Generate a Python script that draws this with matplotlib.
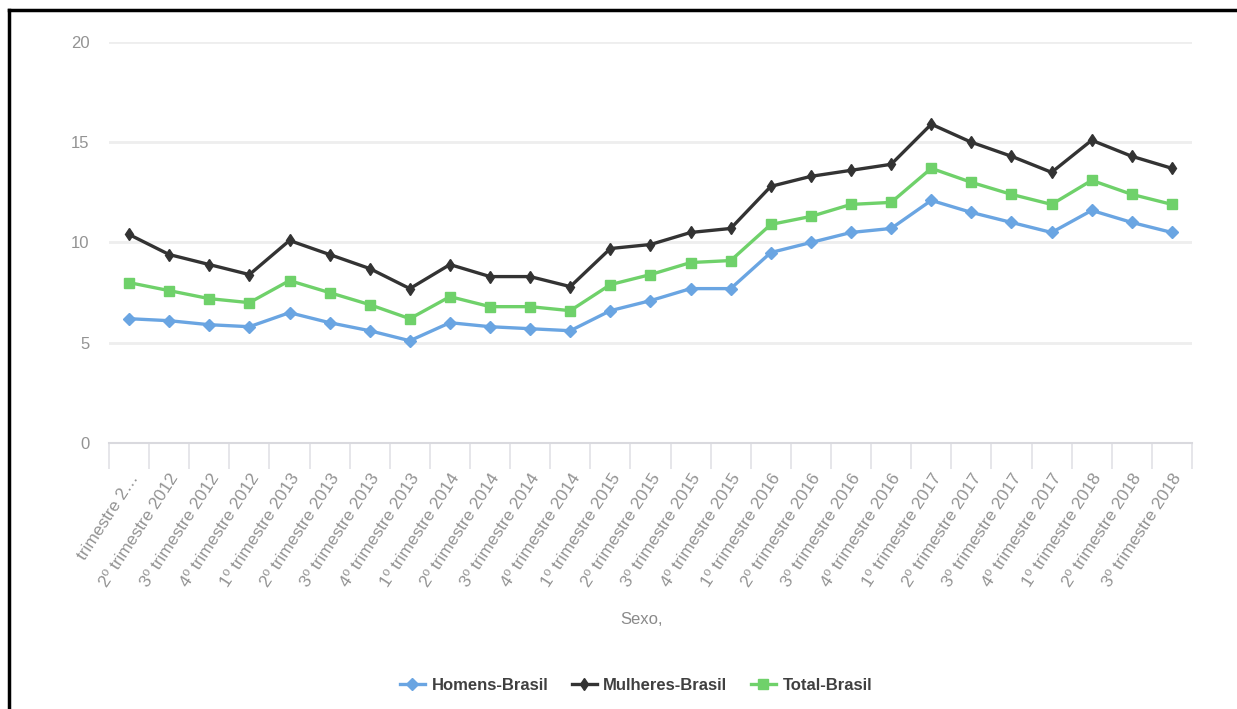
import matplotlib
matplotlib.use("Agg")
import matplotlib.pyplot as plt
from matplotlib.lines import Line2D
import numpy as np

quarters = (
    ["trimestre 2…", "2º trimestre 2012", "3º trimestre 2012", "4º trimestre 2012"]
    + [f"{q}º trimestre {y}" for y in range(2013, 2018) for q in (1, 2, 3, 4)]
    + ["1º trimestre 2018", "2º trimestre 2018", "3º trimestre 2018"]
)

homens = [6.2, 6.1, 5.9, 5.8, 6.5, 6.0, 5.6, 5.1, 6.0, 5.8, 5.7, 5.6,
          6.6, 7.1, 7.7, 7.7, 9.5, 10.0, 10.5, 10.7, 12.1, 11.5, 11.0, 10.5,
          11.6, 11.0, 10.5]
mulheres = [10.4, 9.4, 8.9, 8.4, 10.1, 9.4, 8.7, 7.7, 8.9, 8.3, 8.3, 7.8,
            9.7, 9.9, 10.5, 10.7, 12.8, 13.3, 13.6, 13.9, 15.9, 15.0, 14.3, 13.5,
            15.1, 14.3, 13.7]
total = [8.0, 7.6, 7.2, 7.0, 8.1, 7.5, 6.9, 6.2, 7.3, 6.8, 6.8, 6.6,
         7.9, 8.4, 9.0, 9.1, 10.9, 11.3, 11.9, 12.0, 13.7, 13.0, 12.4, 11.9,
         13.1, 12.4, 11.9]

series = [
    ("Homens-Brasil", homens, "#6aa5e2", "D", 6.5),
    ("Mulheres-Brasil", mulheres, "#333333", "d", 6),
    ("Total-Brasil", total, "#6fd16a", "s", 6.5),
]

W, H = 1237, 709
fig = plt.figure(figsize=(W / 100, H / 100), dpi=100)
ax = fig.add_axes([109 / W, (H - 443) / H, (1192 - 109) / W, (443 - 42) / H])

x = np.arange(len(quarters))
for name, vals, color, marker, ms in series:
    ax.plot(x, vals, color=color, lw=2.4, marker=marker, ms=ms,
            markeredgecolor=color, label=name, zorder=3)

ax.set_xlim(-0.5, len(quarters) - 0.5)
ax.set_ylim(0, 20)
ax.set_yticks([0, 5, 10, 15, 20])
ax.grid(axis="y", color="#eeeeee", lw=2)
ax.set_axisbelow(True)
for side in ("top", "right", "left"):
    ax.spines[side].set_visible(False)
ax.spines["bottom"].set_color("#d9d9de")
ax.spines["bottom"].set_linewidth(1.5)

ax.tick_params(axis="y", length=0, pad=14, labelcolor="#939393", labelsize=12)
for lbl in ax.get_yticklabels():
    lbl.set_family(["Liberation Sans", "DejaVu Sans"])
ax.set_xticks(np.arange(-0.5, len(quarters)), minor=False)
ax.set_xticklabels([])
ax.tick_params(axis="x", which="major", length=19, width=1.2, color="#e2e2e6",
               direction="out")
ax.set_xticks(x, minor=True)
ax.set_xticklabels(quarters, minor=True, rotation=57, ha="right",
                   rotation_mode="anchor", color="#939393", fontsize=12.5,
                   family=["Liberation Sans", "DejaVu Sans"])
ax.tick_params(axis="x", which="minor", length=0, pad=20)

fig.text(642 / W, 1 - 620 / H, "Sexo,", ha="center", va="center",
         color="#8a8a8a", fontsize=12, family=["Liberation Sans", "DejaVu Sans"])

handles = [Line2D([0], [0], color=c, lw=2.4, marker=m, ms=ms, markeredgecolor=c)
           for _, _, c, m, ms in series]
fig.legend(handles, [s[0] for s in series], loc="center",
           bbox_to_anchor=(636 / W, 1 - 685 / H), ncol=3, frameon=False,
           handlelength=1.5, handletextpad=0.4, columnspacing=1.4,
           labelcolor="#404040",
           prop={"family": ["Liberation Sans", "DejaVu Sans"],
                 "size": 12, "weight": "bold"})

# frame edges
fig.add_artist(Line2D([9 / W, 1], [1 - 10 / H, 1 - 10 / H], color="black", lw=2.5))
fig.add_artist(Line2D([9 / W, 9 / W], [0, 1 - 10 / H], color="black", lw=2.5))

fig.savefig("out.png", dpi=100, facecolor="white")
